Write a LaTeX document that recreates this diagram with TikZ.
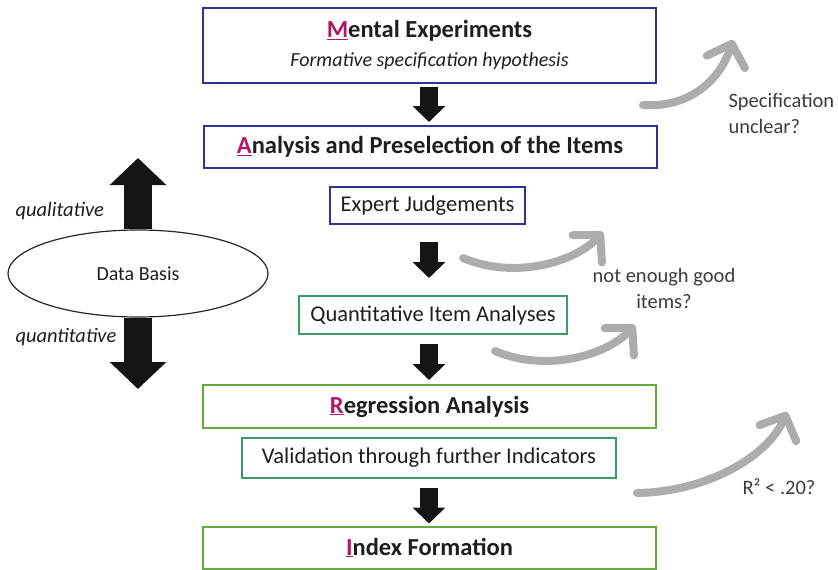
\documentclass[tikz,border=0pt]{standalone}
\usepackage{fontspec}
\setmainfont{Carlito}
\usetikzlibrary{arrows.meta,shapes.geometric}
\definecolor{boxblue}{RGB}{47,50,145}
\definecolor{boxgreen}{RGB}{100,170,60}
\definecolor{boxteal}{RGB}{60,155,100}
\definecolor{accent}{RGB}{176,24,100}
\definecolor{txt}{RGB}{30,30,30}
\definecolor{notegray}{RGB}{60,60,60}
\definecolor{loopgray}{RGB}{172,172,172}
\newcommand{\initial}[1]{{\color{accent}\underline{#1}}}

\begin{document}
\begin{tikzpicture}[x=1pt, y=-1pt,
  box/.style={draw, line width=2pt, inner sep=0pt, text=txt,
    font=\fontsize{22.5}{27}\selectfont},
  stagebox/.style={box, minimum width=453pt, minimum height=43pt,
    font=\bfseries\fontsize{24.5}{29}\selectfont},
  blkarrow/.style={line width=18pt, draw=black!92,
    -{Triangle[length=16pt,width=32pt]}},
  bigarrow/.style={line width=28pt, draw=black!92,
    -{Triangle[length=27pt,width=55pt]}},
  loopback/.style={line width=8pt, draw=loopgray, line cap=round,
    -{Straight Barb[length=19pt,width=40pt,round]}},
  note/.style={text=notegray, font=\fontsize{20.5}{26}\selectfont}]
  \useasboundingbox (0,0) rectangle (838,570);
  \coordinate (axis) at (429,0);

  % the main column
  \node[stagebox, draw=boxblue, line width=2.5pt, minimum height=75pt, align=center]
    (me) at (429.5,45.5) {\initial{M}ental Experiments\\[0pt]
    {\normalfont\itshape\fontsize{20}{24}\selectfont Formative specification hypothesis}};
  \node[stagebox, draw=boxblue, minimum height=42pt] (ap) at (430,147)
    {\initial{A}nalysis and Preselection of the Items};
  \node[box, draw=boxblue, minimum width=195pt, minimum height=37pt] (ej) at (427.5,205.5)
    {Expert Judgements};
  \node[box, draw=boxteal, minimum width=268pt, minimum height=38pt] (qa) at (433,315)
    {Quantitative Item Analyses};
  \node[stagebox, draw=boxgreen] (ra) at (429.5,406.5) {\initial{R}egression Analysis};
  \node[box, draw=boxteal, minimum width=374pt, minimum height=40pt] (vi) at (429,457.5)
    {Validation through further Indicators};
  \node[stagebox, draw=boxgreen, minimum height=42pt] (ix) at (429.5,547.5)
    {\initial{I}ndex Formation};

  \draw[blkarrow, shorten <=3pt, shorten >=3pt] (me.south -| axis) -- (ap.north -| axis);
  \draw[blkarrow, shorten <=17pt, shorten >=17pt] (ej.south -| axis) -- (qa.north -| axis);
  \draw[blkarrow, shorten <=9pt, shorten >=4pt] (qa.south -| axis) -- (ra.north -| axis);
  \draw[blkarrow, shorten <=9pt, shorten >=2pt] (vi.south -| axis) -- (ix.north -| axis);

  % data basis with its two directions
  \node[ellipse, draw=black!85, line width=1.2pt, minimum width=260pt, minimum height=87pt,
    inner sep=0pt, text=txt, font=\fontsize{20}{24}\selectfont] (db) at (138,273.5) {Data Basis};
  \coordinate (qualtip) at (138,158);
  \coordinate (quanttip) at (138,389);
  \draw[bigarrow] (db.north) -- (qualtip);
  \draw[bigarrow] (db.south) -- (quanttip);
  \node[note, text=txt, font=\itshape\fontsize{20.5}{24}\selectfont, anchor=west] (qual) at (12,211) {qualitative};
  \node[note, text=txt, font=\itshape\fontsize{20.5}{24}\selectfont, anchor=west] (quant) at (12,337) {quantitative};

  % loops back
  \coordinate (l1s) at (643,105);
  \coordinate (l1e) at (733,40);
  \coordinate (l2s) at (463,258);
  \coordinate (l2e) at (603,232);
  \coordinate (l3s) at (495,351);
  \coordinate (l3e) at (635,325);
  \coordinate (l4s) at (637,493);
  \coordinate (l4e) at (787,412);
  \draw[loopback] (l1s) .. controls (690,108) and (720,80) .. (l1e);
  \draw[loopback] (l2s) .. controls (515,280) and (575,262) .. (l2e);
  \draw[loopback] (l3s) .. controls (547,373) and (607,355) .. (l3e);
  \draw[loopback] (l4s) .. controls (705,492) and (767,458) .. (l4e);
  \node[note, align=left, anchor=west] (why1) at (725,113.5) {Specification\\unclear?};
  \node[note, align=center] (why2) at (664,288) {not enough good\\items?};
  \node[note] (why3) at (779,487) {R² < .20?};
\end{tikzpicture}
\end{document}
